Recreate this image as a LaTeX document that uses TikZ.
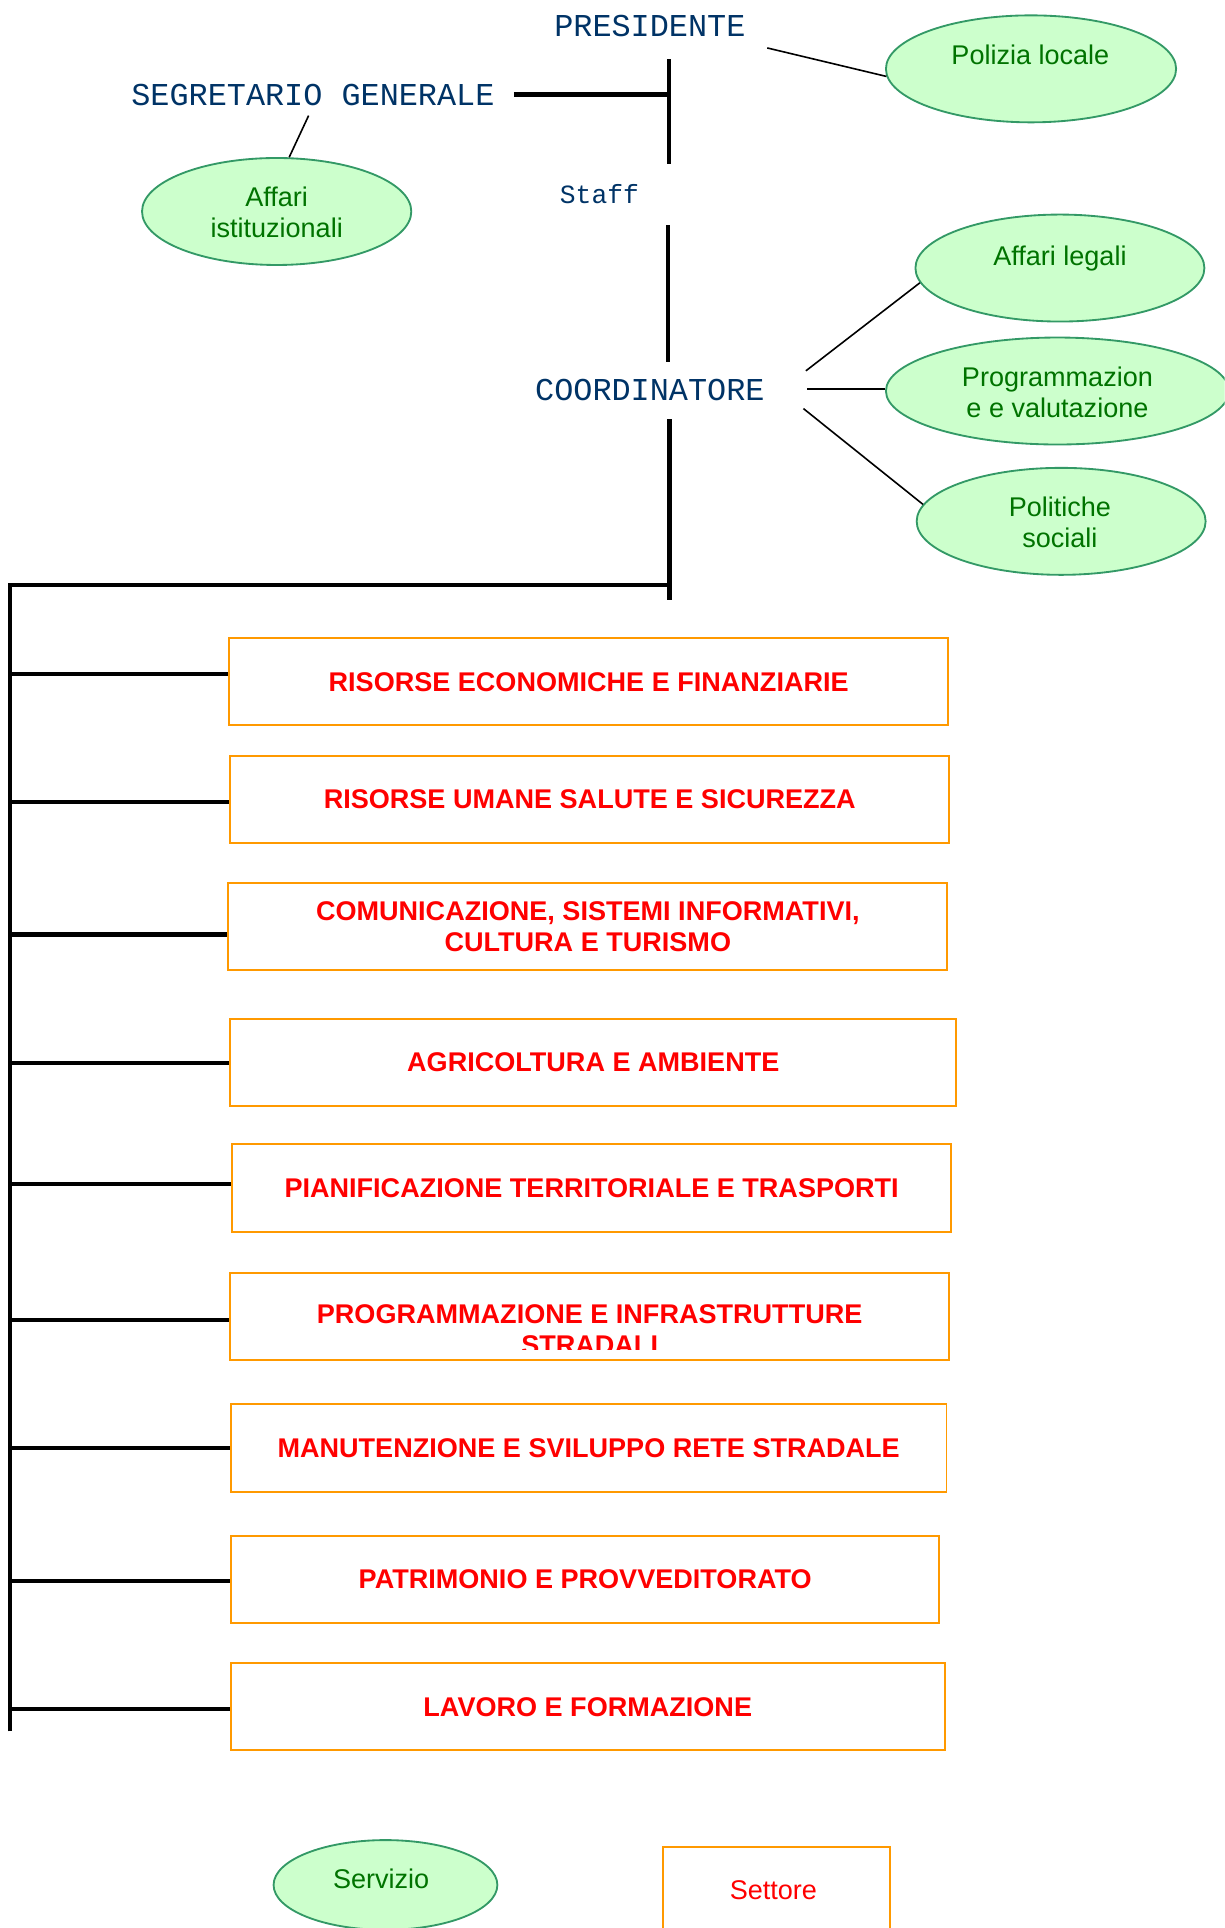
\documentclass[tikz,border=0pt]{standalone}
\usepackage{fontspec}
\setmainfont{Liberation Sans}
\newfontfamily\monof{Liberation Mono}
\usetikzlibrary{shapes.geometric}
\definecolor{monoblue}{RGB}{0,51,102}
\definecolor{tgreen}{RGB}{0,115,0}
\definecolor{efill}{RGB}{204,255,204}
\definecolor{eborder}{RGB}{51,153,102}
\definecolor{orangeb}{RGB}{255,153,0}
\definecolor{bred}{RGB}{255,0,0}
\begin{document}
\begin{tikzpicture}[x=0.5pt,y=-0.5pt,
  mono/.style={font=\monof\fontsize{12.95}{15}\selectfont,text=monoblue,inner sep=0pt},
  trunk/.style={line width=1.7pt},
  conn/.style={line width=0.65pt},
  ell/.style={ellipse,draw=eborder,fill=efill,line width=0.75pt,inner sep=0pt,minimum height=43.5pt},
  etext/.style={font=\fontsize{11}{12.6}\selectfont,text=tgreen,align=center,inner sep=0pt},
  sbox/.style={rectangle,draw=orangeb,line width=0.8pt,inner sep=0pt,minimum height=35.5pt,
    font=\bfseries\fontsize{11}{12.6}\selectfont,text=bred,align=center},
  btext/.style={font=\bfseries\fontsize{11}{12.6}\selectfont,text=bred,align=center,inner sep=0pt}]
\useasboundingbox (0,0) rectangle (996,1568);
\clip (0,0) rectangle (996,1568);

% top texts
\node[mono] (pres) at (528.5,21) {PRESIDENTE};
\node[mono] (seg) at (254.5,77) {SEGRETARIO GENERALE};
\node[mono,font=\monof\fontsize{10.7}{12}\selectfont] (staff) at (487.5,158) {Staff};
\node[mono] (coord) at (528.5,317) {COORDINATORE};

% ellipses (Servizi)
\node[ell,minimum width=118pt] (pol) at (838.5,56) {};
\node[etext] (polt) at (838,45) {Polizia locale};
\node[ell,minimum width=109.5pt] (ai) at (225,172) {};
\node[etext] (ait) at (225,173) {Affari\\istituzionali};
\node[ell,minimum width=117.5pt] (al) at (862,218) {};
\node[etext] (alt) at (862,210) {Affari legali};
\node[ell,minimum width=139.5pt] (pv) at (860,318) {};
\node[etext] (pvt) at (860,319) {Programmazion\\e e valutazione};
\node[ell,minimum width=117.5pt] (ps) at (863,424) {};
\node[etext] (pst) at (862,425) {Politiche\\sociali};

% trunk
\coordinate (v1a) at (544,48);
\coordinate (v1b) at (544,133);
\draw[trunk] (v1a) -- (v1b);
\coordinate (s1) at (418,76.5);
\draw[line width=2pt] (s1) -- (s1 -| v1a);
\coordinate (v2a) at (543.5,183);
\coordinate (v2b) at (543.5,294);
\draw[trunk] (v2a) -- (v2b);
\coordinate (v3a) at (544.5,341);
\coordinate (v3b) at (544.5,488);
\draw[trunk] (v3a) -- (v3b);
\coordinate (h1) at (8,475.5);
\coordinate (spineb) at (8,1408);
\draw[trunk] (spineb) -- (h1) -- (h1 -| v3a);

% thin connectors
\coordinate (pc) at (624,39);
\draw[conn] (pc) -- (pol.183);
\coordinate (sc) at (251,94);
\draw[conn] (sc) -- (ai.77);
\coordinate (cc1) at (655.4,301.6);
\draw[conn] (cc1) -- (al.186);
\coordinate (cc2) at (656.5,316.3);
\draw[conn] (cc2) -- (cc2 -| pv.west);
\coordinate (cc3) at (653.4,332.3);
\draw[conn] (cc3) -- (ps.173);

% Settori
\node[sbox,minimum width=292.5pt] (r1) at (478.75,554.45) {RISORSE ECONOMICHE E FINANZIARIE};
\node[sbox,minimum width=292.5pt] (r2) at (479.65,650.1) {RISORSE UMANE SALUTE E SICUREZZA};
\node[sbox,minimum width=292.5pt] (r3) at (478.05,753.35) {COMUNICAZIONE, SISTEMI INFORMATIVI,\\CULTURA E TURISMO};
\node[sbox,minimum width=295.3pt] (r4) at (482.5,864.05) {AGRICOLTURA E AMBIENTE};
\node[sbox,minimum width=292.5pt] (r5) at (481.15,966.1) {PIANIFICAZIONE TERRITORIALE E TRASPORTI};
\node[sbox,minimum width=292.5pt] (r6) at (479.55,1070.7) {};
\begin{scope}
  \clip (186,1034) rectangle (773,1097.6);
  \node[btext] (r6t) at (479.55,1081.45) {PROGRAMMAZIONE E INFRASTRUTTURE\\STRADALI};
\end{scope}
\node[sbox,minimum width=291pt] (r7) at (478.75,1177.65) {MANUTENZIONE E SVILUPPO RETE STRADALE};
\node[sbox,minimum width=288.1pt] (r8) at (475.9,1284.4) {PATRIMONIO E PROVVEDITORATO};
\node[sbox,minimum width=290.2pt] (r9) at (478,1388) {LAVORO E FORMAZIONE};

% branches
\coordinate (b1) at (8,548);
\draw[trunk] (b1) -- (b1 -| r1.west);
\coordinate (b2) at (8,652);
\draw[trunk] (b2) -- (b2 -| r2.west);
\coordinate (b3) at (8,760);
\draw[trunk] (b3) -- (b3 -| r3.west);
\coordinate (b4) at (8,864.2);
\draw[trunk] (b4) -- (b4 -| r4.west);
\coordinate (b5) at (8,963);
\draw[trunk] (b5) -- (b5 -| r5.west);
\coordinate (b6) at (8,1073.4);
\draw[trunk] (b6) -- (b6 -| r6.west);
\coordinate (b7) at (8,1177.5);
\draw[trunk] (b7) -- (b7 -| r7.west);
\coordinate (b8) at (8,1286);
\draw[trunk] (b8) -- (b8 -| r8.west);
\coordinate (b9) at (8,1390);
\draw[trunk] (b9) -- (b9 -| r9.west);

% legend
\node[ell,minimum width=91pt,minimum height=36.5pt] (serv) at (313.5,1533) {};
\node[etext] (servt) at (310,1528) {Servizio};
\node[sbox,minimum width=92.4pt] (sett) at (631.75,1537.5) {};
\node[etext,text=bred] (settt) at (629,1537) {Settore};
\end{tikzpicture}
\end{document}
